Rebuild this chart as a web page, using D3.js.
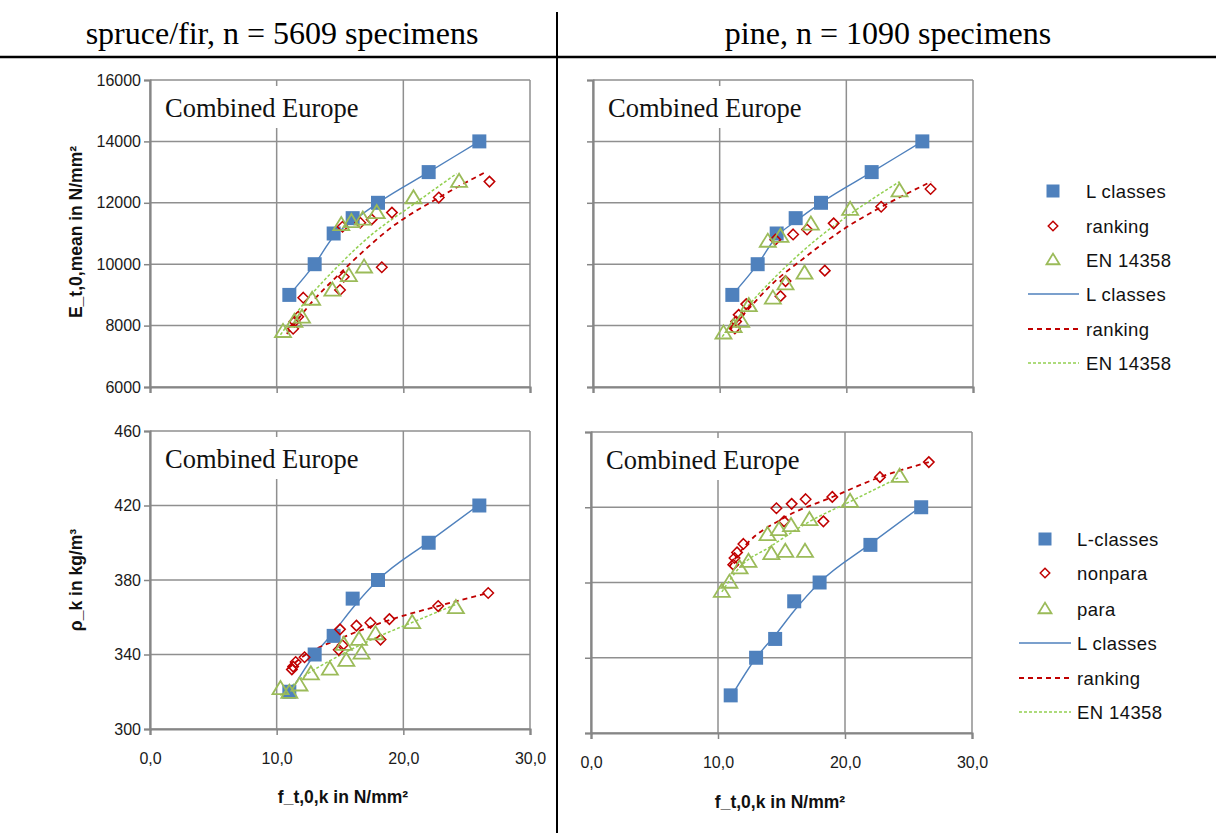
<!DOCTYPE html>
<html><head><meta charset="utf-8">
<script src="https://cdn.jsdelivr.net/npm/d3@7"></script>
<style>body{margin:0;background:#fff}svg{display:block}</style>
</head><body><svg id="c" width="1216" height="833"></svg>
<script>
// ---------- text ----------
const headers = ["spruce/fir, n = 5609 specimens", "pine, n = 1090 specimens"];
const panelLabel = "Combined Europe";
const xTitle = "f_t,0,k in N/mm²";
const eTitle = "E_t,0,mean in N/mm²";
const rhoTitle = "ρ_k  in kg/m³";
const legendTop = ["L classes", "ranking", "EN 14358", "L classes", "ranking", "EN 14358"];
const legendBottom = ["L-classes", "nonpara", "para", "L classes", "ranking", "EN 14358"];

// ---------- ticks ----------
const xTicks = [0, 10, 20, 30];
const eTicks = [6000, 8000, 10000, 12000, 14000, 16000];
const rhoTicks = [300, 340, 380, 420, 460];

// ---------- L classes (both species) ----------
const lClassF = [11, 13, 14.5, 16, 18, 22, 26];
const lClassE = [9000, 10000, 11000, 11500, 12000, 13000, 14000];
const lClassRho = [320, 340, 350, 370, 380, 400, 420];

// ---------- spruce/fir, E ----------
const spruceRankF = [11.3, 11.4, 11.7, 12.1, 15.0, 15.3, 18.3, 15.2, 16.6, 17.5, 19.1, 22.8, 26.8];
const spruceRankE = [7900, 8130, 8290, 8910, 9160, 9590, 9900, 11220, 11350, 11460, 11680, 12170, 12690];
const spruceEnF = [10.5, 11.4, 12.0, 12.8, 14.4, 15.7, 16.9, 15.1, 15.9, 16.8, 17.9, 20.8, 24.4];
const spruceEnE = [7800, 8130, 8270, 8850, 9150, 9620, 9900, 11280, 11380, 11460, 11670, 12150, 12690];

// ---------- pine, E ----------
const pineRankF = [11.2, 11.3, 11.5, 12.1, 14.8, 15.2, 18.3, 14.4, 15.8, 16.9, 19.0, 22.75, 26.65];
const pineRankE = [7910, 8130, 8350, 8700, 8960, 9450, 9790, 10800, 10970, 11130, 11330, 11870, 12450];
const pineEnF = [10.3, 11.1, 11.7, 12.3, 14.2, 15.2, 16.7, 13.8, 14.8, 17.2, 20.3, 24.2];
const pineEnE = [7750, 7960, 8130, 8640, 8890, 9350, 9700, 10740, 10900, 11300, 11780, 12380];

// ---------- spruce/fir, density ----------
const spruceNonparaF = [11.2, 11.3, 11.5, 12.2, 14.9, 15.2, 18.2, 15.0, 16.3, 17.4, 18.9, 22.75, 26.7];
const spruceNonparaRho = [332, 333.5, 336, 338.5, 342.5, 345, 348, 353.5, 355.5, 357, 359, 366, 373];
const spruceParaF = [10.3, 11.0, 11.8, 12.7, 14.2, 15.5, 16.7, 15.3, 16.5, 17.8, 20.7, 24.15];
const spruceParaRho = [321.5, 319.5, 323.5, 329.5, 332, 336.7, 340.6, 345.3, 348, 351, 357, 365];

// ---------- pine, density ----------
const pineNonparaF = [11.2, 11.3, 11.5, 12.0, 15.2, 18.3, 14.6, 15.8, 16.9, 19.0, 22.75, 26.6];
const pineNonparaRho = [389.5, 393, 396, 400.5, 412.5, 412.5, 419.5, 421.8, 424.3, 425.5, 436, 444];
const pineParaF = [10.3, 10.9, 11.7, 12.4, 14.2, 15.3, 16.85, 13.9, 14.8, 15.75, 17.2, 20.4, 24.3];
const pineParaRho = [375.2, 380, 387.6, 391.1, 395.2, 396.4, 396.4, 405.3, 408, 410.1, 413.3, 423, 436.3];

// ---------- trend lines ----------
const fitLClassF = [11, 13, 14.5, 16, 18, 22, 26];
const fitLClassE = [9000, 10000, 10900, 11400, 12000, 13000, 14000];
const fitLClassRho = [319, 340, 352, 365, 380, 400.5, 420.5];

const fitSpruceRankF = [10.8, 12.9, 15, 16.6, 18.9, 22.8, 26.4];
const fitSpruceRankE = [7730, 8820, 9700, 10330, 11150, 12170, 12980];
const fitSpruceEnF = [10.3, 12.4, 14.7, 17.4, 20.8, 24.2];
const fitSpruceEnE = [7700, 8850, 9880, 10930, 11950, 12950];

const fitPineRankF = [10.8, 12.3, 14, 16.6, 20, 22.75, 26.7];
const fitPineRankE = [7860, 8550, 9300, 10180, 11200, 11860, 12690];
const fitPineEnF = [10.2, 12.8, 15.4, 17.5, 20.3, 24.2];
const fitPineEnE = [7640, 8900, 9990, 10760, 11630, 12690];

const fitSpruceRankRhoF = [10.9, 12.2, 15, 18.9, 22.75, 26.7];
const fitSpruceRankRho = [332.5, 339.5, 348.5, 358.5, 366, 373];
const fitSpruceEnRhoF = [10.3, 12.1, 14.7, 17.5, 20.8, 24.2];
const fitSpruceEnRho = [318, 328, 338.5, 348, 357.5, 367];

const fitPineRankRhoF = [10.9, 12.2, 15.1, 19.1, 22.75, 26.6];
const fitPineRankRho = [388.5, 400, 414, 425.7, 436, 444];
const fitPineEnRhoF = [10.3, 11.7, 14.1, 17.2, 20.4, 24.3];
const fitPineEnRho = [375, 388, 399, 412.4, 423, 436];

// ---------- styles ----------
const BLUE = "#4F81BD", RED = "#C00000", GREEN = "#9BBB59", LGREEN = "#92D050";
const GRID = "#8f8f8f", AXIS = "#868686";
const SANS = "'Liberation Sans', Arial, sans-serif";
const SERIF = "'Liberation Serif', 'Times New Roman', serif";

const svg = d3.select("#c");
svg.append("rect").attr("width", 1216).attr("height", 833).attr("fill", "#fff");

function pts(a, b) { return a.map((v, i) => [v, b[i]]); }

function markerPath(type, s) {
  if (type === "square") { const h = s / 2; return `M${-h},${-h}H${h}V${h}H${-h}Z`; }
  if (type === "diamond") { const h = s / 2; return `M0,${-h}L${h},0L0,${h}L${-h},0Z`; }
  const w = s / 2, hh = s * 0.82;
  return `M0,${-hh * 0.6}L${w},${hh * 0.4}L${-w},${hh * 0.4}Z`;
}
const MK = {
  square: { size: 14, fill: BLUE, stroke: "none", sw: 0 },
  diamond: { size: 10.5, fill: "none", stroke: RED, sw: 1.5 },
  triangle: { size: 16, fill: "none", stroke: GREEN, sw: 1.8 }
};
const LN = {
  blue: { stroke: BLUE, sw: 1.4, dash: null },
  red: { stroke: RED, sw: 1.8, dash: "5,4" },
  green: { stroke: LGREEN, sw: 1.5, dash: "3,2" }
};

function panel(o) {
  const x = d3.scaleLinear().domain([0, 30]).range([o.x0, o.x1]);
  const y = d3.scaleLinear().domain([o.yTicks[0], o.yTicks[o.yTicks.length - 1]]).range([o.y1, o.y0]);
  const g = svg.append("g");
  g.selectAll(null).data(xTicks).join("line")
    .attr("x1", d => x(d)).attr("x2", d => x(d)).attr("y1", o.y0).attr("y2", o.y1)
    .attr("stroke", GRID).attr("stroke-width", 1.5);
  g.selectAll(null).data(o.yTicks).join("line")
    .attr("x1", o.x0).attr("x2", o.x1).attr("y1", d => y(d)).attr("y2", d => y(d))
    .attr("stroke", GRID).attr("stroke-width", 1.5);
  const xa = g.append("g").attr("transform", `translate(0,${o.y1})`)
    .call(d3.axisBottom(x).tickValues(xTicks).tickSize(6).tickPadding(18)
      .tickFormat(o.xLabels ? (d => d3.format(".1f")(d).replace(".", ",")) : ""));
  const ya = g.append("g").attr("transform", `translate(${o.x0},0)`)
    .call(d3.axisLeft(y).tickValues(o.yTicks).tickSize(6).tickPadding(3)
      .tickFormat(o.yLabels ? d3.format("d") : ""));
  [xa, ya].forEach(a => {
    a.select(".domain").attr("stroke", AXIS).attr("stroke-width", 2.2);
    a.selectAll(".tick line").attr("stroke", AXIS).attr("stroke-width", 1.5);
    a.selectAll(".tick text").attr("fill", "#1a1a1a").style("font-family", SANS).style("font-size", "16px");
  });
  g.append("rect").attr("x", o.x0 + 7).attr("y", o.y0 + 6).attr("width", 214).attr("height", 42).attr("fill", "#fff");
  g.append("text").attr("x", o.x0 + 15).attr("y", o.y0 + 37).text(panelLabel)
    .style("font-family", SERIF).style("font-size", "26.5px").attr("fill", "#111");
  const line = d3.line().x(d => x(d[0])).y(d => y(d[1])).curve(d3.curveMonotoneX);
  o.lines.forEach(l => {
    const st = LN[l.style];
    g.append("path").datum(pts(l.f, l.v)).attr("d", line).attr("fill", "none")
      .attr("stroke", st.stroke).attr("stroke-width", st.sw).attr("stroke-dasharray", st.dash);
  });
  o.series.forEach(s => {
    const m = MK[s.type];
    g.selectAll(null).data(pts(s.f, s.v)).join("path")
      .attr("transform", d => `translate(${x(d[0])},${y(d[1])})`)
      .attr("d", markerPath(s.type, m.size))
      .attr("fill", m.fill).attr("stroke", m.stroke).attr("stroke-width", m.sw);
  });
}

function legend(o) {
  const g = svg.append("g");
  const types = ["square", "diamond", "triangle"];
  const lines = ["blue", "red", "green"];
  o.labels.forEach((t, i) => {
    const yy = o.ys[i];
    if (i < 3) {
      const m = MK[types[i]];
      const s = types[i] === "square" ? 13 : types[i] === "diamond" ? 9.5 : 13;
      g.append("path").attr("transform", `translate(${o.mx},${yy})`).attr("d", markerPath(types[i], s))
        .attr("fill", m.fill).attr("stroke", m.stroke).attr("stroke-width", m.sw);
    } else {
      const st = LN[lines[i - 3]];
      g.append("line").attr("x1", o.lx0).attr("x2", o.lx1).attr("y1", yy).attr("y2", yy)
        .attr("stroke", st.stroke).attr("stroke-width", st.sw).attr("stroke-dasharray", st.dash);
    }
    g.append("text").attr("x", o.tx).attr("y", yy).attr("dy", "0.36em").text(t)
      .style("font-family", SANS).style("font-size", "18.5px").style("letter-spacing", "0.4px").attr("fill", "#111");
  });
}

svg.append("text").attr("x", 282).attr("y", 44).attr("text-anchor", "middle").text(headers[0])
  .style("font-family", SERIF).style("font-size", "32px").attr("fill", "#000");
svg.append("text").attr("x", 888).attr("y", 44).attr("text-anchor", "middle").text(headers[1])
  .style("font-family", SERIF).style("font-size", "32px").attr("fill", "#000");
svg.append("line").attr("x1", 0).attr("x2", 1216).attr("y1", 57).attr("y2", 57).attr("stroke", "#000").attr("stroke-width", 2.5);
svg.append("line").attr("x1", 557).attr("x2", 557).attr("y1", 12).attr("y2", 833).attr("stroke", "#000").attr("stroke-width", 2);

panel({ x0: 150, x1: 530, y0: 80, y1: 387, yTicks: eTicks, xLabels: false, yLabels: true,
  lines: [{ f: fitLClassF, v: fitLClassE, style: "blue" }, { f: fitSpruceRankF, v: fitSpruceRankE, style: "red" }, { f: fitSpruceEnF, v: fitSpruceEnE, style: "green" }],
  series: [{ f: lClassF, v: lClassE, type: "square" }, { f: spruceRankF, v: spruceRankE, type: "diamond" }, { f: spruceEnF, v: spruceEnE, type: "triangle" }] });
panel({ x0: 593, x1: 973, y0: 80, y1: 387, yTicks: eTicks, xLabels: false, yLabels: false,
  lines: [{ f: fitLClassF, v: fitLClassE, style: "blue" }, { f: fitPineRankF, v: fitPineRankE, style: "red" }, { f: fitPineEnF, v: fitPineEnE, style: "green" }],
  series: [{ f: lClassF, v: lClassE, type: "square" }, { f: pineRankF, v: pineRankE, type: "diamond" }, { f: pineEnF, v: pineEnE, type: "triangle" }] });
panel({ x0: 150, x1: 530, y0: 431, y1: 729, yTicks: rhoTicks, xLabels: true, yLabels: true,
  lines: [{ f: fitLClassF, v: fitLClassRho, style: "blue" }, { f: fitSpruceRankRhoF, v: fitSpruceRankRho, style: "red" }, { f: fitSpruceEnRhoF, v: fitSpruceEnRho, style: "green" }],
  series: [{ f: lClassF, v: lClassRho, type: "square" }, { f: spruceNonparaF, v: spruceNonparaRho, type: "diamond" }, { f: spruceParaF, v: spruceParaRho, type: "triangle" }] });
panel({ x0: 591, x1: 972, y0: 432, y1: 733, yTicks: rhoTicks, xLabels: true, yLabels: false,
  lines: [{ f: fitLClassF, v: fitLClassRho, style: "blue" }, { f: fitPineRankRhoF, v: fitPineRankRho, style: "red" }, { f: fitPineEnRhoF, v: fitPineEnRho, style: "green" }],
  series: [{ f: lClassF, v: lClassRho, type: "square" }, { f: pineNonparaF, v: pineNonparaRho, type: "diamond" }, { f: pineParaF, v: pineParaRho, type: "triangle" }] });

function bold(t, x, y, rot) {
  const e = svg.append("text").attr("text-anchor", "middle").text(t)
    .style("font-family", SANS).style("font-size", "17.5px").style("font-weight", "bold").attr("fill", "#111");
  if (rot) e.attr("transform", `translate(${x},${y}) rotate(-90)`); else e.attr("x", x).attr("y", y);
}
bold(eTitle, 82, 232, true);
bold(rhoTitle, 82, 580, true);
bold(xTitle, 343, 803, false);
bold(xTitle, 780, 808, false);

legend({ labels: legendTop, ys: [191, 226, 260, 294, 329, 363], mx: 1053, tx: 1086, lx0: 1028, lx1: 1079 });
legend({ labels: legendBottom, ys: [539, 573, 609, 643, 678, 712], mx: 1045, tx: 1077, lx0: 1019, lx1: 1071 });
</script></body></html>
